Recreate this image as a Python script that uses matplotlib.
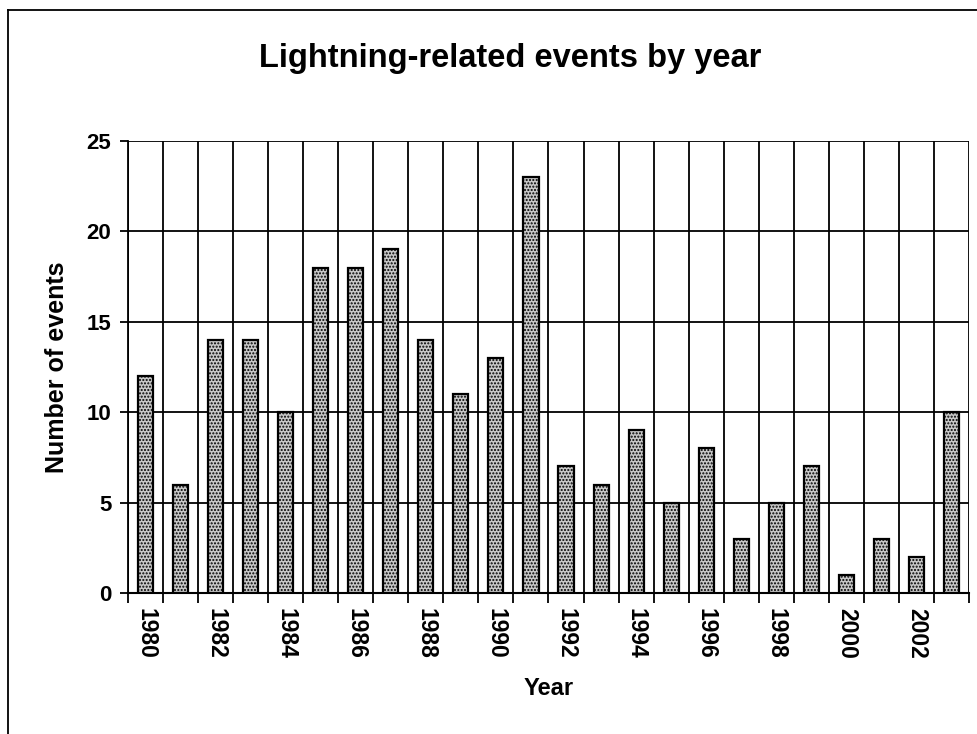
import matplotlib.pyplot as plt
from matplotlib.lines import Line2D
import numpy as np

plt.rcParams['font.family'] = ['Liberation Sans', 'DejaVu Sans']
plt.rcParams['hatch.color'] = '#9a9a9a'

years = list(range(1980, 2004))
events = [12, 6, 14, 14, 10, 18, 18, 19, 14, 11, 13, 23,
          7, 6, 9, 5, 8, 3, 5, 7, 1, 3, 2, 10]
tick_years = years[::2]

fig = plt.figure(figsize=(9.78, 7.34), dpi=100)
ax = fig.add_axes([128 / 978, 141 / 734, (969 - 128) / 978, (593 - 141) / 734])

x = np.arange(len(years))
ax.bar(x, events, width=0.43, color='#c8c8c8', edgecolor='black',
       linewidth=1.6, hatch='.....', zorder=3)

ax.set_xlim(-0.5, len(years) - 0.5)
ax.set_ylim(0, 25)
ax.set_yticks(range(0, 26, 5))
ax.set_xticks(x[::2])
ax.set_xticklabels([str(y) for y in tick_years], rotation=270,
                   fontsize=16.5, fontweight='bold')
ax.set_xticks(np.arange(len(years) + 1) - 0.5, minor=True)
ax.tick_params(axis='x', which='major', length=0, pad=11)
ax.tick_params(axis='x', which='minor', length=7, width=1.3, direction='out')
ax.tick_params(axis='y', length=6, width=1.3, labelsize=16, pad=6)
for t in ax.get_yticklabels():
    t.set_fontweight('bold')

ax.grid(axis='y', color='black', linewidth=1.3, zorder=0)
ax.grid(axis='x', which='minor', color='black', linewidth=1.3, zorder=0)
ax.set_axisbelow(True)
for side in ['top', 'right']:
    ax.spines[side].set_visible(False)
ax.spines['left'].set_linewidth(1.3)
ax.spines['bottom'].set_linewidth(1.5)

ax.set_xlabel('Year', fontsize=17, fontweight='bold')
ax.xaxis.set_label_coords(0.5, -84 / 452)
ax.set_ylabel('Number of events', fontsize=18, fontweight='bold')
ax.yaxis.set_label_coords(-59 / 841, 0.5)
fig.text(510 / 978, 1 - 67 / 734, 'Lightning-related events by year',
         ha='center', va='baseline', fontsize=23.5, fontweight='bold')

# outer chart border (top and left visible)
fig.add_artist(Line2D([8 / 978, 8 / 978], [0, 1 - 10 / 734], color='black',
                      linewidth=1.3, transform=fig.transFigure))
fig.add_artist(Line2D([8 / 978, 1], [1 - 10 / 734, 1 - 10 / 734], color='black',
                      linewidth=1.3, transform=fig.transFigure))

fig.savefig('out.png', dpi=100)
